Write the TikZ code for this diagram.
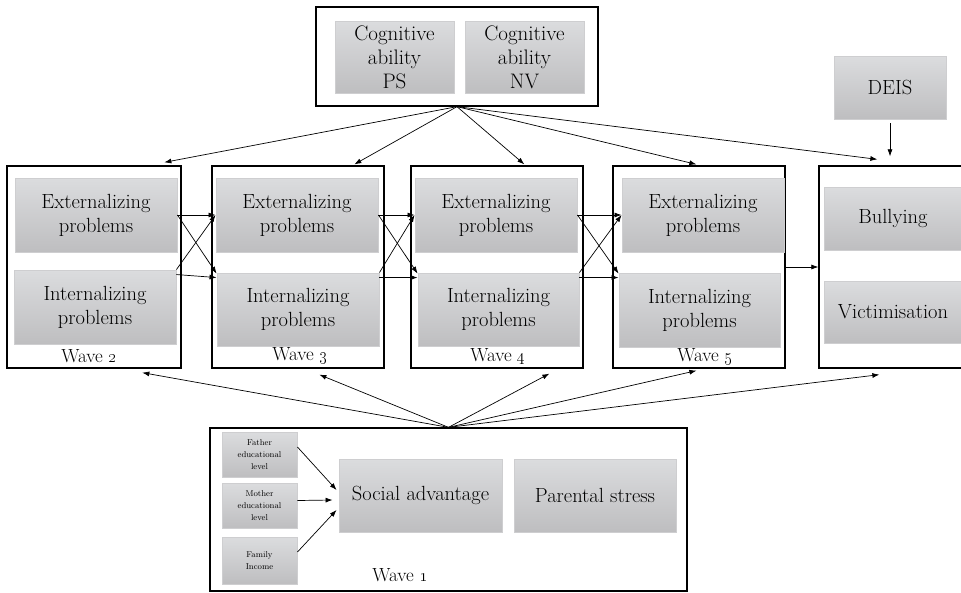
\documentclass[tikz,border=0pt]{standalone}
\usetikzlibrary{calc,arrows.meta}
\definecolor{gtop}{RGB}{219,220,222}
\definecolor{gbot}{RGB}{190,190,192}
\definecolor{gedge}{RGB}{206,206,208}
\tikzset{
  gbox/.style={draw=gedge, line width=0.9pt, top color=gtop, bottom color=gbot,
    inner sep=0pt, align=center, font=\fontsize{20.5}{24}\selectfont},
  obox/.style={draw=black, line width=1.3pt, inner sep=0pt},
  arr/.style={-{Latex[length=7pt,width=5pt]}, line width=0.7pt},
  lab/.style={font=\fontsize{19}{20}\selectfont, inner sep=0pt},
  cogfont/.style={font=\fontsize{21}{24}\selectfont},
  smallfont/.style={font=\fontsize{8.5}{12}\selectfont},
}
\newcommand\mybx[6]{\node[#1, minimum width=#4pt, minimum height=#5pt] (#2) at (#3) {#6};}
\begin{document}
\begin{tikzpicture}[x=1pt,y=-1pt]
\useasboundingbox (0,0) rectangle (961,592);
\begin{scope}
\clip (0,0) rectangle (961,592);
% top
\mybx{obox}{top}{457,56.5}{282}{99}{}
\mybx{gbox,cogfont}{ps}{394.5,57}{119}{72}{Cognitive\\ability\\PS}
\mybx{gbox,cogfont}{nv}{524.5,57}{119}{72}{Cognitive\\ability\\NV}
\mybx{gbox}{deis}{890,87.5}{112}{63}{DEIS}
% waves
\mybx{obox}{w2}{94,267}{174}{202}{}
\mybx{obox}{w3}{298,267}{172}{202}{}
\mybx{obox}{w4}{497,267}{172}{202}{}
\mybx{obox}{w5}{699,267}{172}{202}{}
\mybx{obox}{bo}{892.5,267}{147}{202}{}
\mybx{gbox}{e2}{96,215}{162}{74}{Externalizing\\problems}
\mybx{gbox}{e3}{297,215}{162}{74}{Externalizing\\problems}
\mybx{gbox}{e4}{496,215}{162}{74}{Externalizing\\problems}
\mybx{gbox}{e5}{703,215}{162}{74}{Externalizing\\problems}
\mybx{gbox}{i2}{95,307}{162}{74}{Internalizing\\problems}
\mybx{gbox}{i3}{298,309.5}{162}{73}{Internalizing\\problems}
\mybx{gbox}{i4}{498.5,309.5}{161}{73}{Internalizing\\problems}
\mybx{gbox}{i5}{699.5,310}{161}{74}{Internalizing\\problems}
\mybx{gbox}{bul}{893,218.5}{138}{63}{Bullying}
\mybx{gbox}{vic}{893,312}{138}{62}{Victimisation}
\node[lab] (l2) at (89,356) {Wave \oldstylenums{2}};
\node[lab] (l3) at (300,356) {Wave \oldstylenums{3}};
\node[lab] (l4) at (498,357) {Wave \oldstylenums{4}};
\node[lab] (l5) at (705,357) {Wave \oldstylenums{5}};
% bottom
\mybx{obox}{bot}{448.5,509.5}{477}{163}{}
\mybx{gbox,smallfont}{fa}{259.5,454.5}{75}{45}{Father\\educational\\level}
\mybx{gbox,smallfont}{mo}{259.5,505.5}{75}{45}{Mother\\educational\\level}
\mybx{gbox,smallfont}{fi}{259.5,560.5}{75}{47}{Family\\Income}
\mybx{gbox}{soc}{420.5,495.5}{163}{73}{Social advantage}
\mybx{gbox}{par}{595,495.5}{162}{73}{Parental stress}
\node[lab] (l1) at (400,575) {Wave \oldstylenums{1}};
% top arrows
\draw[arr] (top.south) -- ($(w2.north west)+(158,-3)$);
\draw[arr] (top.south) -- ($(w3.north west)+(143,-1)$);
\draw[arr] (top.south) -- ($(w4.north west)+(114,-1)$);
\draw[arr] (top.south) -- ($(w5.north west)+(84,-1)$);
\draw[arr] (top.south) -- ($(bo.north west)+(59,-6)$);
\draw[arr] ($(deis.south)+(0,4)$) -- ($(deis.south |- bo.north)+(0,-9)$);
% bottom arrows
\draw[arr] (bot.north) -- ($(w2.south west)+(136,4)$);
\draw[arr] (bot.north) -- ($(w3.south west)+(108,6)$);
\draw[arr] (bot.north) -- ($(w4.south west)+(139,5)$);
\draw[arr] (bot.north) -- ($(w5.south west)+(84,2)$);
\draw[arr] (bot.north) -- ($(bo.south west)+(61,6)$);
% cross-lagged arrows
\foreach \a/\b in {2/3,3/4,4/5}{
  \draw[arr] (e\a.east) -- (e\b.west);
  \draw[arr] (e\a.east) -- ($(i\b.north west)+(0,1)$);
  \draw[arr] (i\a.north east) -- (e\b.west);
  \draw[arr] ($(i\a.north east)+(0,5)$) -- ($(i\b.north west)+(0,5)$);
}
\draw[arr] (w5.east) -- (bo.west);
% social advantage indicators
\draw[arr] ($(fa.east)+(0,-7.5)$) -- ($(soc.west)+(-2,-5.5)$);
\draw[arr] ($(mo.east)+(0,-5)$) -- ($(soc.west)+(-6,4.5)$);
\draw[arr] ($(fi.east)+(0,-8.5)$) -- ($(soc.west)+(-2,14.5)$);
\end{scope}
\end{tikzpicture}
\end{document}
